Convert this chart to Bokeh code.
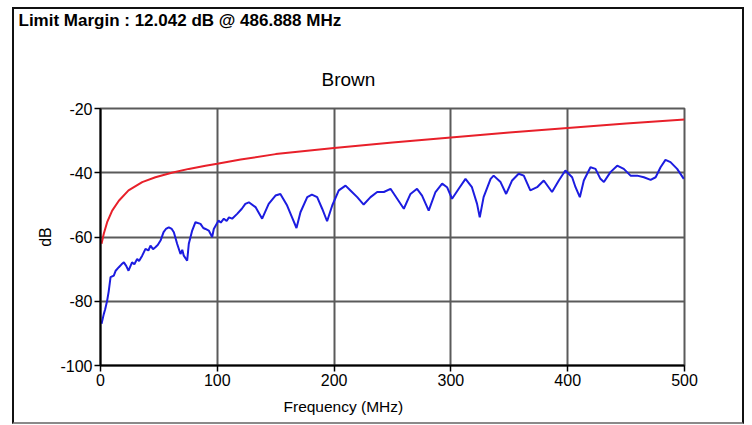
from bokeh.plotting import figure
from bokeh.models import Range1d, FixedTicker, Title, InlineStyleSheet
from bokeh.embed import file_html
from bokeh.resources import INLINE

title_text = "Limit Margin : 12.042 dB @ 486.888 MHz"
pair_name = "Brown"
x_label = "Frequency (MHz)"
y_label = "dB"
x_ticks = [0, 100, 200, 300, 400, 500]
y_ticks = [-100, -80, -60, -40, -20]
y_tick_labels = ["-100", "-80", "-60", "-40", "-20"]

limit_freq = [0.9, 2.8, 5.7, 10, 15.7, 24, 35.7, 47, 61, 75.6, 89.9, 100, 120, 150,
              200, 250, 300, 350, 400, 450, 500]
limit_db = [-62.1, -59, -55.4, -51.8, -48.7, -45.5, -42.9, -41.4, -40, -38.8, -37.8, -37.2,
            -35.9, -34.2, -32.3, -30.6, -29, -27.5, -26.1, -24.7, -23.4]

meas_freq = [0.9, 2.8, 4, 5.7, 7, 8.6, 11.4, 13, 15.7, 18, 20, 22, 24, 27, 29, 31.4, 33, 35.7,
             38.5, 41, 42.8, 45, 47, 49, 51.4, 54, 56, 58.5, 61, 62.8, 65.6, 68.5, 70, 71.3,
             74.2, 75.6, 78.5, 81.3, 85.6, 88, 89.9, 92.7, 95.6, 97, 101, 103, 105.6, 108, 110,
             112.7, 117, 121, 124, 127, 132.7, 138.4, 144, 149.8, 154, 159.8, 164, 167.8, 171.2,
             177, 181, 185.5, 189.8, 194, 198.4, 204, 209.8, 214, 219.8, 225.3, 231.2, 236.9,
             242.6, 248.3, 254, 259.7, 265.4, 271, 275.3, 281, 286.8, 292.5, 296.7, 301, 306.7,
             312.5, 318, 322.4, 324.7, 328, 334, 336.6, 342.5, 347.3, 352.4, 358, 362.4, 368,
             373.8, 379.5, 386.6, 392.4, 398, 403.8, 406.7, 410.4, 413.8, 419.5, 423.8, 428,
             431, 436.6, 442.4, 448, 453.8, 459.5, 465.2, 471, 475.3, 479.5, 483.7, 488, 493.7,
             499.4]
meas_db = [-87, -84, -82.5, -79.8, -77, -72.5, -72, -70.5, -69.4, -68.5, -67.9, -69, -70.5,
           -67.9, -68.5, -66.8, -67.5, -65.8, -63.7, -64.2, -62.7, -63.8, -63.2, -62.5, -61.1,
           -58.5, -57.5, -57, -57.5, -58.5, -62.1, -65.3, -64, -65.8, -67.4, -62.1, -58, -55.4,
           -55.9, -57.2, -57.5, -58, -60, -57.5, -54.9, -55.5, -54.3, -55, -53.9, -54.3, -52.8,
           -51.2, -49.7, -49.2, -50.7, -54.3, -49.7, -47.1, -46.6, -50.2, -53.9, -57.2, -52.3,
           -47.6, -46.8, -47.6, -51.2, -55.1, -50.2, -45.5, -44, -45.5, -47.6, -49.9, -47.6,
           -46, -46, -45, -48.1, -51.2, -46.6, -45, -47.1, -51.8, -46, -43.4, -44.5, -48.1,
           -45, -41.9, -44.5, -49.7, -53.9, -47.6, -41.9, -40.9, -42.9, -46.6, -42.4, -40.3,
           -40.9, -45.5, -44.5, -42.4, -46, -42.4, -39.3, -41.4, -44.5, -47.6, -42.4, -38.3,
           -38.8, -41.9, -42.9, -39.8, -37.8, -38.8, -40.9, -40.9, -41.4, -42.2, -41.4, -38.3,
           -36, -36.7, -38.8, -41.9]

FONT = "Liberation Sans"
GRID = "#5a5a5a"

box_css = InlineStyleSheet(css="""
:host { position: relative; }
:host::after {
  content: ""; position: absolute; left: 12px; top: 7px; width: 732px; height: 417px;
  border: 2px solid #111; border-bottom-color: #8a8a8a; box-sizing: border-box;
  pointer-events: none; z-index: 100;
}
""")

p = figure(width=752, height=425, output_backend="svg", toolbar_location=None,
           x_range=Range1d(0, 500), y_range=Range1d(-100, -20),
           min_border_left=100, min_border_right=68, min_border_top=108, min_border_bottom=60,
           title=Title(text=title_text, align="left", offset=-82, standoff=15,
                       text_font=FONT, text_font_size="17px", text_font_style="bold",
                       text_color="black"))
p.stylesheets = [box_css]
p.background_fill_color = "white"
p.border_fill_color = "white"
p.outline_line_color = GRID
p.outline_line_width = 2

# pair name just above the frame
p.add_layout(Title(text=pair_name, align="left", offset=221, standoff=37, text_font=FONT,
                   text_font_size="19px", text_font_style="normal", text_color="black"),
             "above")
# small spacer between the two header lines
p.add_layout(Title(text=" ", align="left", standoff=8, text_font=FONT,
                   text_font_size="1px", text_color="white"), "above")

for ax in (p.xaxis[0], p.yaxis[0]):
    ax.axis_line_color = "black"
    ax.axis_line_width = 2
    ax.major_tick_line_color = "black"
    ax.major_tick_line_width = 1.5
    ax.major_tick_out = 6
    ax.major_tick_in = 0
    ax.minor_tick_line_color = None
    ax.major_label_text_font = FONT
    ax.major_label_text_font_size = "16px"
    ax.major_label_text_color = "black"
    ax.axis_label_text_font = FONT
    ax.axis_label_text_font_size = "16px"
    ax.axis_label_text_font_style = "normal"
    ax.axis_label_text_color = "black"

p.xaxis.ticker = FixedTicker(ticks=x_ticks)
p.yaxis.ticker = FixedTicker(ticks=y_ticks)
p.yaxis.major_label_overrides = {t: s for t, s in zip(y_ticks, y_tick_labels)}
p.xaxis.major_label_standoff = 2
p.yaxis.major_label_standoff = 2
p.yaxis.axis_label = y_label
p.yaxis.axis_label_standoff = 3

# x axis title below the tick labels, shifted like the original
p.add_layout(Title(text=x_label, align="left", offset=183, standoff=15, text_font=FONT,
                   text_font_size="15.5px", text_font_style="normal", text_color="black"),
             "below")

p.xgrid.ticker = FixedTicker(ticks=x_ticks)
p.ygrid.ticker = FixedTicker(ticks=y_ticks)
for g in (p.xgrid[0], p.ygrid[0]):
    g.grid_line_color = GRID
    g.grid_line_width = 2

p.line(limit_freq, limit_db, line_color="#e8202a", line_width=2)
p.line(meas_freq, meas_db, line_color="#1c1ce0", line_width=2)

open("out.html", "w").write(file_html(p, INLINE))
